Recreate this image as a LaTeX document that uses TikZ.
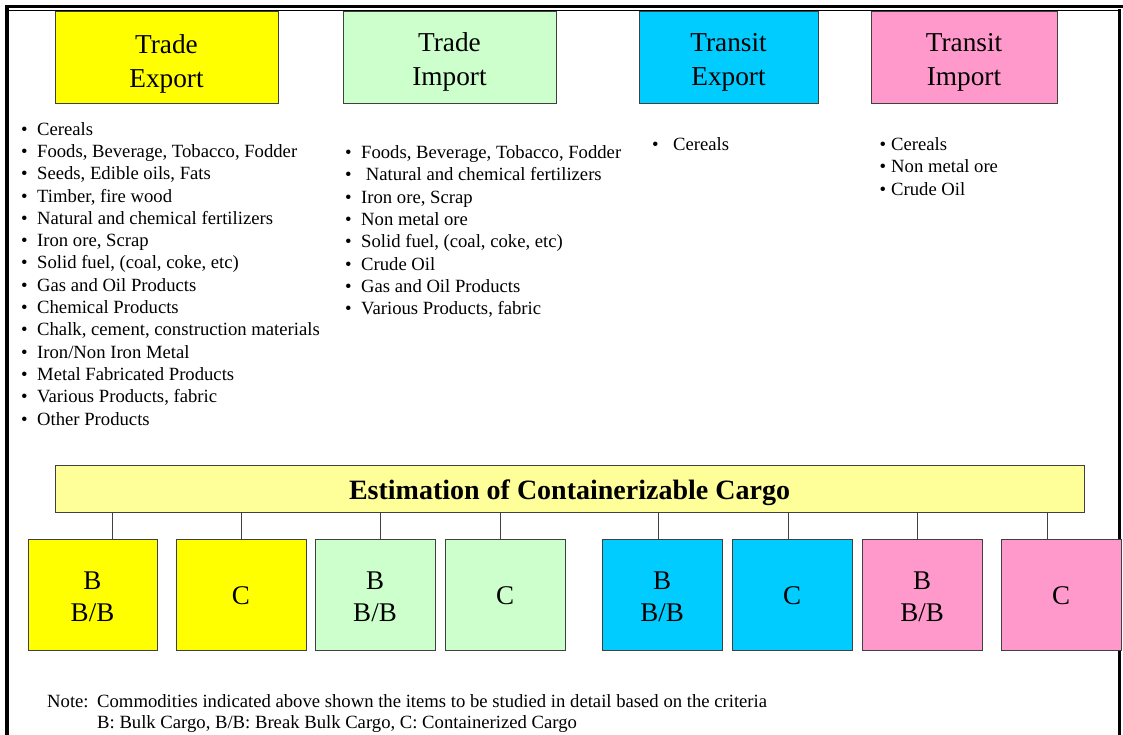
\documentclass[tikz,border=0pt]{standalone}
\usepackage{fontspec}
\setmainfont{Liberation Serif}
\definecolor{cyel}{HTML}{FFFF00}
\definecolor{cgrn}{HTML}{CCFFCC}
\definecolor{ccyn}{HTML}{00CCFF}
\definecolor{cpnk}{HTML}{FF99CC}
\definecolor{cbar}{HTML}{FFFF99}
\definecolor{cedge}{HTML}{404040}
\newcommand\bul[1]{\makebox[#1][l]{•}}
\newcommand\hstrut[1]{\rule{0pt}{#1}}
\newcommand\dstrut[1]{\rule[-#1]{0pt}{0pt}}
\begin{document}
\begin{tikzpicture}[x=1pt,y=-1pt,
  headbox/.style={draw=cedge, line width=0.9pt, inner sep=0pt, align=center,
    minimum height=92pt, font=\fontsize{27.3}{34}\selectfont},
  smallbox/.style={draw=cedge, line width=0.9pt, inner sep=0pt, align=center,
    minimum height=111pt, font=\fontsize{27}{32.5}\selectfont},
  listtext/.style={anchor=north west, inner sep=0pt, align=left,
    font=\fontsize{18.67}{22.3}\selectfont},
  link/.style={draw=cedge, line width=0.9pt}]
\useasboundingbox (0,0) rectangle (1123,735);
% page frame
\draw[line width=3pt] (5,6.5) -- (1123,6.5);
\draw[line width=1pt] (8,10.5) -- (1119,10.5);
\draw[line width=4pt] (7,5) -- (7,735);
\draw[line width=2.5pt] (1119.5,9) -- (1119.5,735);
% header boxes
\node[headbox, fill=cyel, minimum width=223pt] (te) at (166.5,57) {\hstrut{31.9pt}Trade\\Export};
\node[headbox, fill=cgrn, minimum width=213pt] (ti) at (449.5,57) {\hstrut{27.9pt}Trade\\Import};
\node[headbox, fill=ccyn, minimum width=179pt] (xe) at (728.5,57) {\hstrut{27.9pt}Transit\\Export};
\node[headbox, fill=cpnk, minimum width=186pt] (xi) at (964,57) {\hstrut{27.9pt}Transit\\Import};
% lists
\node[listtext] (lte) at (21,122) {\bul{16pt}Cereals\\
\bul{16pt}Foods, Beverage, Tobacco, Fodder\\
\bul{16pt}Seeds, Edible oils, Fats\\
\bul{16pt}Timber, fire wood\\
\bul{16pt}Natural and chemical fertilizers\\
\bul{16pt}Iron ore, Scrap\\
\bul{16pt}Solid fuel, (coal, coke, etc)\\
\bul{16pt}Gas and Oil Products\\
\bul{16pt}Chemical Products\\
\bul{16pt}Chalk, cement, construction materials\\
\bul{16pt}Iron/Non Iron Metal\\
\bul{16pt}Metal Fabricated Products\\
\bul{16pt}Various Products, fabric\\
\bul{16pt}Other Products};
\node[listtext] (lti) at (345,145.5) {\bul{16pt}Foods, Beverage, Tobacco, Fodder\\
\bul{16pt}\ Natural and chemical fertilizers\\
\bul{16pt}Iron ore, Scrap\\
\bul{16pt}Non metal ore\\
\bul{16pt}Solid fuel, (coal, coke, etc)\\
\bul{16pt}Crude Oil\\
\bul{16pt}Gas and Oil Products\\
\bul{16pt}Various Products, fabric};
\node[listtext] (lxe) at (652,137.5) {\bul{21pt}Cereals};
\node[listtext] (lxi) at (879.5,137.5) {\bul{11.5pt}Cereals\\
\bul{11.5pt}Non metal ore\\
\bul{11.5pt}Crude Oil};
% estimation bar
\node[draw=cedge, line width=0.9pt, fill=cbar, minimum width=1029pt, minimum height=47pt,
  inner sep=0pt, text height=21.6pt, text depth=0pt,
  font=\fontsize{28}{32}\selectfont\bfseries] (bar) at (569.5,488.5)
  {Estimation of Containerizable Cargo};
% small boxes
\node[smallbox, fill=cyel, minimum width=129pt] (b1) at (92.5,594.5) {\hstrut{26pt}B\\B/B\dstrut{4pt}};
\node[smallbox, fill=cyel, minimum width=130pt] (b2) at (241,594.5) {\hstrut{21pt}C};
\node[smallbox, fill=cgrn, minimum width=120pt] (b3) at (375,594.5) {\hstrut{26pt}B\\B/B\dstrut{4pt}};
\node[smallbox, fill=cgrn, minimum width=120pt] (b4) at (505,594.5) {\hstrut{21pt}C};
\node[smallbox, fill=ccyn, minimum width=120pt] (b5) at (662,594.5) {\hstrut{26pt}B\\B/B\dstrut{4pt}};
\node[smallbox, fill=ccyn, minimum width=120pt] (b6) at (792,594.5) {\hstrut{21pt}C};
\node[smallbox, fill=cpnk, minimum width=120pt] (b7) at (922,594.5) {\hstrut{26pt}B\\B/B\dstrut{4pt}};
\node[smallbox, fill=cpnk, minimum width=120pt] (b8) at (1061,594.5) {\hstrut{21pt}C};
% connectors
\foreach \b/\o in {b1/19.5, b2/0, b3/5, b4/-5, b5/-4, b6/-4, b7/-5, b8/-14}
  \draw[link] ([xshift=\o pt]\b.north) -- ([xshift=\o pt]\b.north |- bar.south);
% note
\node[anchor=base west, inner sep=0pt, font=\fontsize{18.67}{21}\selectfont] (nl) at (47,707) {Note:};
\node[anchor=north west, inner sep=0pt, align=left, font=\fontsize{18.67}{21}\selectfont] (nt) at (97,694.2)
  {Commodities indicated above shown the items to be studied in detail based on the criteria\\
   B: Bulk Cargo, B/B: Break Bulk Cargo, C: Containerized Cargo};
\end{tikzpicture}
\end{document}
